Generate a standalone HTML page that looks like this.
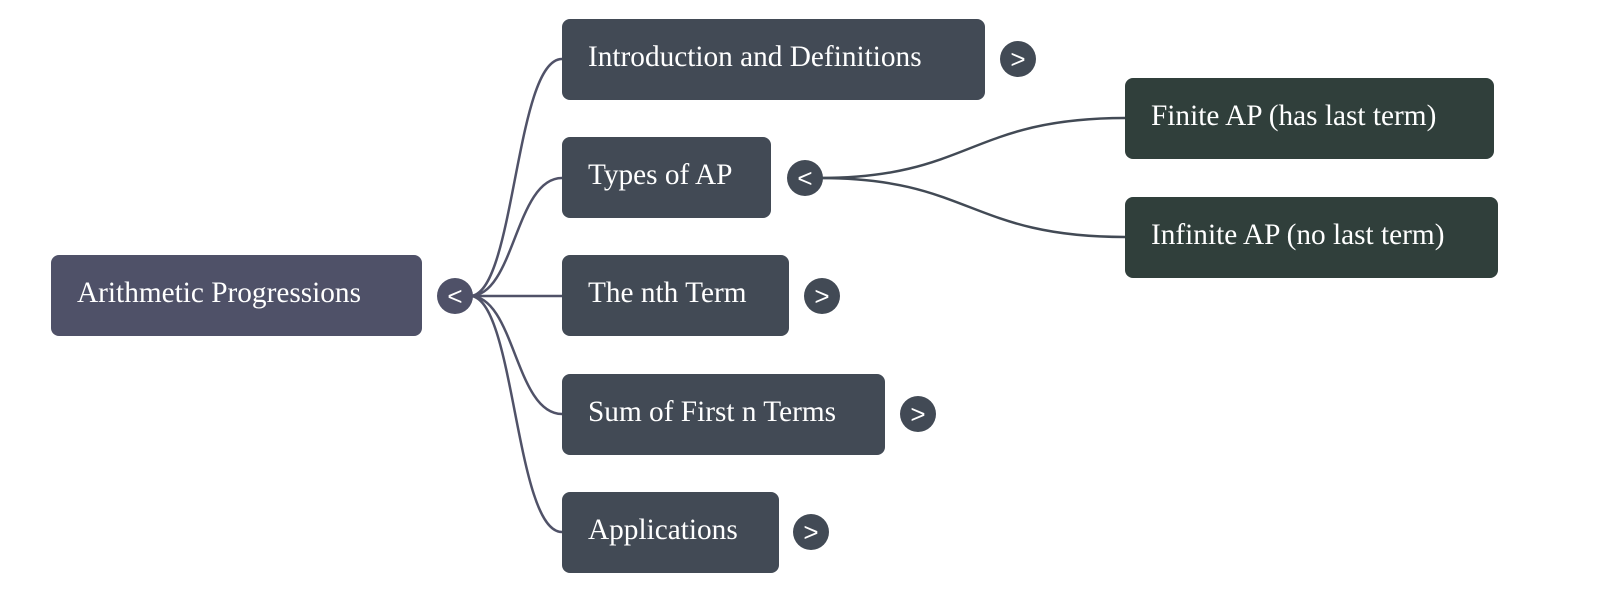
<!DOCTYPE html>
<html><head><meta charset="utf-8"><style>
body{margin:0;width:1600px;height:591px;background:#fff;overflow:hidden;position:relative;font-family:"Liberation Serif",serif}
.n{position:absolute;box-sizing:border-box;border-radius:8px;color:#fff;font-size:29.3px;padding-left:26px;padding-bottom:5px;display:flex;align-items:center;height:81px;white-space:nowrap}
.c{position:absolute;width:36px;height:36px;border-radius:50%;background:#424a55;color:#fff;font-family:"Liberation Sans",sans-serif;font-size:26px;display:flex;align-items:center;justify-content:center;margin:-18px 0 0 -18px;line-height:1}
</style></head><body>
<svg width="1600" height="591" style="position:absolute;left:0;top:0" fill="none" stroke-width="2.5">
<g stroke="#505268">
<path d="M470 296 C515 296 515 59 562 59"/>
<path d="M470 296 C515 296 515 178 562 178"/>
<path d="M470 296 L562 296"/>
<path d="M470 296 C515 296 515 414 562 414"/>
<path d="M470 296 C515 296 515 532 562 532"/>
</g>
<g stroke="#424a55">
<path d="M820 178 C970 178 970 118 1125 118"/>
<path d="M820 178 C970 178 970 237 1125 237"/>
</g>
</svg>
<div class="n" style="left:51px;top:255px;width:371px;background:#4f5168">Arithmetic Progressions</div>
<div class="n" style="left:562px;top:19px;width:423px;background:#424a55">Introduction and Definitions</div>
<div class="n" style="left:562px;top:137px;width:209px;background:#424a55">Types of AP</div>
<div class="n" style="left:562px;top:255px;width:227px;background:#424a55">The nth Term</div>
<div class="n" style="left:562px;top:374px;width:323px;background:#424a55">Sum of First n Terms</div>
<div class="n" style="left:562px;top:492px;width:217px;background:#424a55">Applications</div>
<div class="n" style="left:1125px;top:78px;width:369px;background:#303f3b">Finite AP (has last term)</div>
<div class="n" style="left:1125px;top:197px;width:373px;background:#303f3b">Infinite AP (no last term)</div>
<div class="c" style="left:455px;top:296px;background:#4f5168">&lt;</div>
<div class="c" style="left:1018px;top:59px">&gt;</div>
<div class="c" style="left:805px;top:178px">&lt;</div>
<div class="c" style="left:822px;top:296px">&gt;</div>
<div class="c" style="left:918px;top:414px">&gt;</div>
<div class="c" style="left:811px;top:532px">&gt;</div>
</body></html>
